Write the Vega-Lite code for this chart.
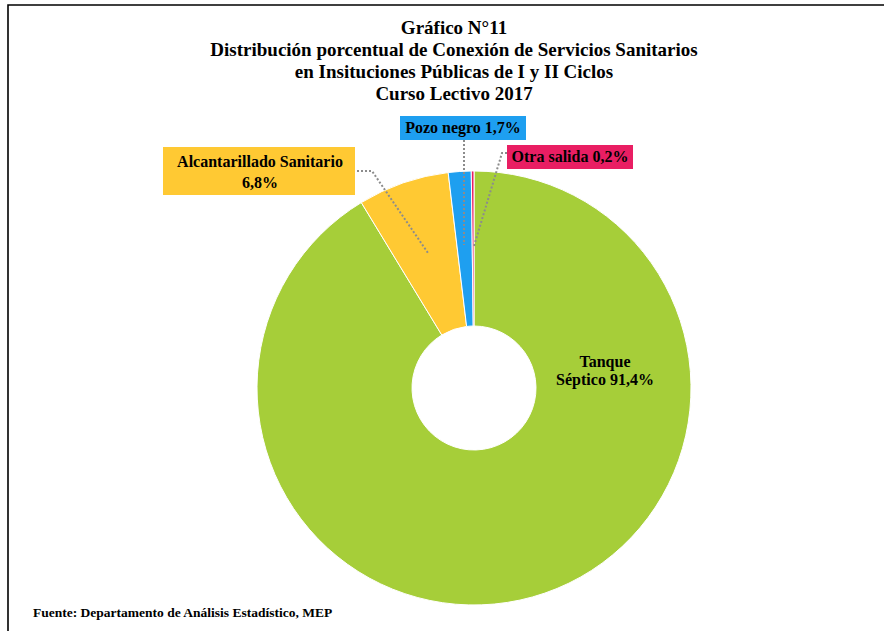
{
  "$schema": "https://vega.github.io/schema/vega-lite/v6.json",
  "width": 820,
  "height": 486,
  "autosize": "none",
  "padding": {"left": 64, "top": 145, "right": 0, "bottom": 0},
  "background": "white",
  "config": {"view": {"stroke": null}},
  "title": {
    "text": ["Gráfico N°11", "Distribución porcentual de Conexión de Servicios Sanitarios", "en Insituciones Públicas de I y II  Ciclos", "Curso Lectivo 2017"],
    "font": "Liberation Serif",
    "fontSize": 19,
    "fontWeight": "bold",
    "lineHeight": 22,
    "anchor": "middle",
    "frame": "group",
    "dx": -20,
    "offset": -102,
    "color": "black"
  },
  "data": {
    "values": [
      {"categoria": "Tanque Séptico", "porcentaje": 91.4, "orden": 1, "etiqueta": "Tanque\nSéptico 91,4%"},
      {"categoria": "Alcantarillado Sanitario", "porcentaje": 6.8, "orden": 2, "etiqueta": "Alcantarillado  Sanitario\n6,8%"},
      {"categoria": "Pozo negro", "porcentaje": 1.7, "orden": 3, "etiqueta": "Pozo negro 1,7%"},
      {"categoria": "Otra salida", "porcentaje": 0.2, "orden": 4, "etiqueta": "Otra salida 0,2%"}
    ]
  },
  "resolve": {"scale": {"shape": "independent"}},
  "layer": [
    {
      "mark": {"type": "point", "size": 4, "filled": false, "stroke": "black", "strokeWidth": 1.6, "opacity": 1, "shape": "M-466,250V-383H412"},
      "transform": [{"filter": "datum.orden == 1"}]
    },
    {
      "mark": {"type": "arc", "outerRadius": 217, "innerRadius": 62, "stroke": "white", "strokeWidth": 1},
      "encoding": {
        "theta": {"field": "porcentaje", "type": "quantitative", "stack": true},
        "order": {"field": "orden", "type": "quantitative"},
        "color": {
          "field": "categoria", "type": "nominal",
          "scale": {"domain": ["Tanque Séptico", "Alcantarillado Sanitario", "Pozo negro", "Otra salida"], "range": ["#A6CE39", "#FFC933", "#1E9FF0", "#E91E63"]},
          "legend": null
        }
      }
    },
    {
      "transform": [{"filter": "datum.orden > 1"}],
      "mark": {"type": "point", "size": 4, "filled": false, "stroke": "#8c8c8c", "strokeWidth": 2, "strokeDash": [2, 2], "opacity": 1},
      "encoding": {
        "shape": {
          "field": "categoria", "type": "nominal",
          "scale": {"domain": ["Alcantarillado Sanitario", "Pozo negro", "Otra salida"], "range": ["M-117,-217H-102L-46,-135", "M-10,-248L-10,-143", "M33,-235H28L0,-142"]},
          "legend": null
        }
      }
    },
    {
      "transform": [{"filter": "datum.orden > 1"}],
      "mark": {"type": "point", "size": 4, "filled": true, "strokeWidth": 0, "opacity": 1},
      "encoding": {
        "shape": {
          "field": "categoria", "type": "nominal",
          "scale": {"domain": ["Alcantarillado Sanitario", "Pozo negro", "Otra salida"], "range": ["M-311,-241H-119V-193H-311Z", "M-74,-272H52V-248H-74Z", "M33,-243H159V-219H33Z"]},
          "legend": null
        },
        "color": {
          "field": "categoria", "type": "nominal",
          "scale": {"domain": ["Tanque Séptico", "Alcantarillado Sanitario", "Pozo negro", "Otra salida"], "range": ["#A6CE39", "#FFC933", "#1E9FF0", "#E91E63"]},
          "legend": null
        }
      }
    },
    {
      "transform": [{"filter": "datum.orden == 1"}],
      "mark": {"type": "text", "font": "Liberation Serif", "fontSize": 16, "fontWeight": "bold", "lineBreak": "\n", "lineHeight": 18, "align": "center", "baseline": "middle", "dx": 131, "dy": -26, "color": "black"},
      "encoding": {"text": {"field": "etiqueta", "type": "nominal"}}
    },
    {
      "transform": [{"filter": "datum.orden == 2"}],
      "mark": {"type": "text", "font": "Liberation Serif", "fontSize": 16, "fontWeight": "bold", "lineBreak": "\n", "lineHeight": 21, "align": "center", "baseline": "middle", "dx": -214, "dy": -226, "color": "black"},
      "encoding": {"text": {"field": "etiqueta", "type": "nominal"}}
    },
    {
      "transform": [{"filter": "datum.orden == 3"}],
      "mark": {"type": "text", "font": "Liberation Serif", "fontSize": 16, "fontWeight": "bold", "align": "center", "baseline": "middle", "dx": -11, "dy": -260, "color": "black"},
      "encoding": {"text": {"field": "etiqueta", "type": "nominal"}}
    },
    {
      "transform": [{"filter": "datum.orden == 4"}],
      "mark": {"type": "text", "font": "Liberation Serif", "fontSize": 16, "fontWeight": "bold", "align": "center", "baseline": "middle", "dx": 96, "dy": -231, "color": "black"},
      "encoding": {"text": {"field": "etiqueta", "type": "nominal"}}
    },
    {
      "data": {"values": [{"fuente": "Fuente: Departamento de Análisis Estadístico, MEP"}]},
      "mark": {"type": "text", "font": "Liberation Serif", "fontSize": 13.5, "fontWeight": "bold", "align": "left", "baseline": "middle", "dx": -441, "dy": 225, "color": "black"},
      "encoding": {"text": {"field": "fuente", "type": "nominal"}}
    }
  ]
}
